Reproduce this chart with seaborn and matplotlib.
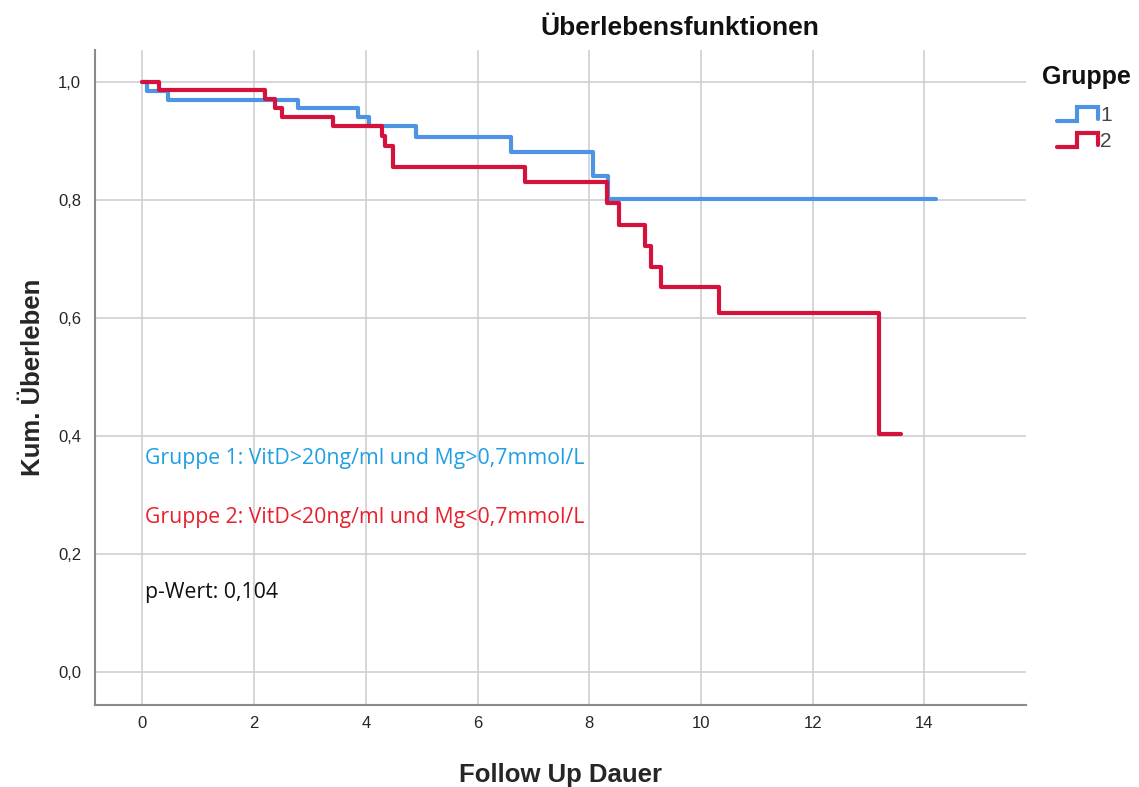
import numpy as np
import pandas as pd
import matplotlib
matplotlib.use("Agg")
import matplotlib.pyplot as plt
import seaborn as sns
from matplotlib.lines import Line2D
from matplotlib.legend_handler import HandlerLine2D
from matplotlib.ticker import FuncFormatter

# Kaplan-Meier Stufen
time_g1 = [0, 0.09, 0.45, 2.78, 3.86, 4.06, 4.9, 6.6, 8.07, 8.34, 14.21]
surv_g1 = [1.0, 0.985, 0.969, 0.955, 0.940, 0.925, 0.906, 0.881, 0.841, 0.802, 0.802]

time_g2 = [0, 0.29, 2.2, 2.38, 2.49, 3.41, 4.28, 4.34, 4.49, 6.85, 8.31, 8.53,
           8.99, 9.11, 9.29, 10.32, 13.19, 13.59]
surv_g2 = [1.0, 0.987, 0.971, 0.955, 0.940, 0.925, 0.909, 0.892, 0.856, 0.830,
           0.794, 0.757, 0.722, 0.686, 0.652, 0.608, 0.403, 0.403]

groups = ["1", "2"]
line_colors = ["#4F93E3", "#D4123C"]
note_g1 = "Gruppe 1: VitD>20ng/ml und Mg>0,7mmol/L"
note_g2 = "Gruppe 2: VitD<20ng/ml und Mg<0,7mmol/L"
note_p = "p-Wert: 0,104"

x_ticks = [0, 2, 4, 6, 8, 10, 12, 14]
y_ticks = [0.0, 0.2, 0.4, 0.6, 0.8, 1.0]


class StepHandler(HandlerLine2D):
    # kleine Treppe als Legendensymbol, wie in SPSS
    def create_artists(self, legend, orig_handle, xdescent, ydescent,
                       width, height, fontsize, trans):
        x0 = -xdescent
        yc = -ydescent + height / 2
        yl = yc - 5
        yh = yc + 5
        xs = [x0, x0 + width * 0.5, x0 + width * 0.5, x0 + width, x0 + width]
        ys = [yl, yl, yh, yh, yl + 1.5]
        ln = Line2D(xs, ys, color=orig_handle.get_color(),
                    linewidth=orig_handle.get_linewidth(),
                    solid_joinstyle="miter", transform=trans)
        return [ln]


df = pd.concat([
    pd.DataFrame({"Zeit": time_g1, "Ueberleben": surv_g1, "Gruppe": groups[0]}),
    pd.DataFrame({"Zeit": time_g2, "Ueberleben": surv_g2, "Gruppe": groups[1]}),
])

sns.set_style("white")
plt.rcParams["font.family"] = ["Liberation Sans", "DejaVu Sans"]

fig = plt.figure(figsize=(11.39, 7.87), dpi=100)
ax = fig.add_axes([0.0834, 0.1042, 0.8174, 0.8323])

sns.lineplot(data=df, x="Zeit", y="Ueberleben", hue="Gruppe",
             palette=dict(zip(groups, line_colors)), estimator=None, sort=False,
             drawstyle="steps-post", linewidth=3.0, ax=ax, legend=False)

ax.set_xlim(-0.85, 15.82)
ax.set_ylim(-0.056, 1.054)
ax.set_xticks(x_ticks)
ax.set_yticks(y_ticks)
ax.yaxis.set_major_formatter(FuncFormatter(lambda v, p: f"{v:.1f}".replace(".", ",")))
ax.grid(True, color="#cfcfcf", linewidth=1.2)
ax.set_axisbelow(True)
for s in ["top", "right"]:
    ax.spines[s].set_visible(False)
for s in ["left", "bottom"]:
    ax.spines[s].set_color("#8a8a8a")
    ax.spines[s].set_linewidth(1.5)
ax.tick_params(axis="both", length=0, labelsize=12, labelcolor="#262626")
ax.tick_params(axis="x", pad=8)
ax.tick_params(axis="y", pad=10)

ax.set_xlabel("Follow Up Dauer", fontsize=18.5, fontweight="bold", labelpad=23)
ax.set_ylabel("Kum. Überleben", fontsize=18.5, fontweight="bold", labelpad=9)

fig.text(0.597, 0.964, "Überlebensfunktionen", ha="center", va="center",
         fontsize=19, fontweight="bold", color="#111111")

ax.text(0.04, 0.362, note_g1, color="#1E9FE3", fontsize=15.3, family="Open Sans",
        ha="left", va="center")
ax.text(0.04, 0.262, note_g2, color="#E8202E", fontsize=15.3, family="Open Sans",
        ha="left", va="center")
ax.text(0.04, 0.134, note_p, color="#111111", fontsize=15.3, family="Open Sans",
        ha="left", va="center")

# Legendentitel separat, Eintraege darunter
fig.text(1042 / 1139, 1 - 77 / 787, "Gruppe", ha="left", va="center",
         fontsize=18, fontweight="bold", color="#111111")
handles = [Line2D([], [], color=c, linewidth=3.0) for c in line_colors]
leg = fig.legend(handles, groups, loc="upper left",
                 bbox_to_anchor=(1057 / 1139, 1 - 106 / 787), frameon=False,
                 fontsize=15, borderpad=0, borderaxespad=0,
                 handlelength=1.95, handletextpad=0.12, labelspacing=0.34,
                 handler_map={Line2D: StepHandler()})
for t in leg.get_texts():
    t.set_color("#444444")

fig.savefig("out.png", dpi=100)
